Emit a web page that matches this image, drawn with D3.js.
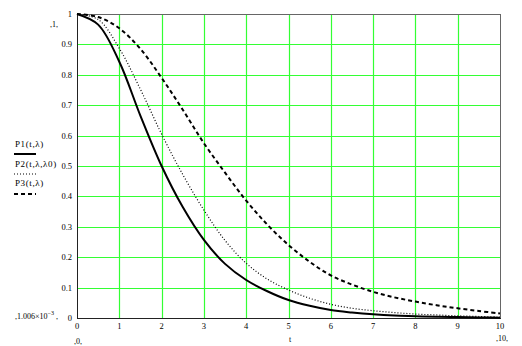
<!DOCTYPE html>
<html>
<head>
<meta charset="utf-8">
<script src="https://cdn.jsdelivr.net/npm/d3@7"></script>
<style>
  body { margin: 0; background: #fff; }
  text { font-family: "Liberation Serif", "Times New Roman", serif; fill: #000; }
</style>
</head>
<body>
<svg id="chart" width="522" height="346"></svg>
<script>
// values
var tValues = [0, 0.5, 1, 1.5, 2, 2.5, 3, 3.5, 4, 4.5, 5, 5.5, 6, 6.5, 7, 7.5, 8, 8.5, 9, 9.5, 10];
var p1Values = [1, 0.965, 0.843, 0.665, 0.5, 0.365, 0.257, 0.178, 0.125, 0.088, 0.059, 0.04, 0.026, 0.018, 0.012, 0.008, 0.006, 0.004, 0.003, 0.002, 0.001];
var p2Values = [1, 0.982, 0.887, 0.752, 0.605, 0.472, 0.355, 0.255, 0.18, 0.128, 0.092, 0.065, 0.045, 0.032, 0.024, 0.018, 0.013, 0.01, 0.007, 0.005, 0.003];
var p3Values = [1, 0.99, 0.953, 0.885, 0.79, 0.685, 0.575, 0.478, 0.386, 0.307, 0.24, 0.185, 0.14, 0.11, 0.086, 0.068, 0.054, 0.042, 0.032, 0.023, 0.015];
var xTicks = [0, 1, 2, 3, 4, 5, 6, 7, 8, 9, 10];
var yTicks = [0, 0.1, 0.2, 0.3, 0.4, 0.5, 0.6, 0.7, 0.8, 0.9, 1];
var legendLabels = ["P1(t,\u03bb)", "P2(t,\u03bb,\u03bb0)", "P3(t,\u03bb)"];

var svg = d3.select("#chart");
var plotLeft = 77, plotRight = 500, plotTop = 14, plotBottom = 318;

var x = d3.scaleLinear().domain([0, 10]).range([plotLeft, plotRight]);
var y = d3.scaleLinear().domain([0, 1]).range([plotBottom, plotTop]);

// grid
svg.append("g")
  .selectAll("line")
  .data(xTicks.slice(1, -1))
  .enter()
  .append("line")
    .attr("x1", d => Math.round(x(d)) + 0.5)
    .attr("x2", d => Math.round(x(d)) + 0.5)
    .attr("y1", plotTop)
    .attr("y2", plotBottom)
    .attr("stroke", "#33ff33")
    .attr("stroke-width", 1.2);

svg.append("g")
  .selectAll("line")
  .data(yTicks.slice(1, -1))
  .enter()
  .append("line")
    .attr("x1", plotLeft)
    .attr("x2", plotRight)
    .attr("y1", d => Math.round(y(d)) + 0.5)
    .attr("y2", d => Math.round(y(d)) + 0.5)
    .attr("stroke", "#33ff33")
    .attr("stroke-width", 1.2);

// frame
svg.append("rect")
  .attr("x", plotLeft + 0.5)
  .attr("y", plotTop + 0.5)
  .attr("width", plotRight - plotLeft)
  .attr("height", plotBottom - plotTop)
  .attr("fill", "none")
  .attr("stroke", "#666")
  .attr("stroke-width", 1);

svg.append("line")
  .attr("x1", plotLeft + 0.5).attr("x2", plotLeft + 0.5)
  .attr("y1", plotTop).attr("y2", plotBottom + 1)
  .attr("stroke", "#222");
svg.append("line")
  .attr("x1", plotLeft).attr("x2", plotRight + 1)
  .attr("y1", plotBottom + 0.5).attr("y2", plotBottom + 0.5)
  .attr("stroke", "#222");

// tick labels
svg.append("g")
  .selectAll("text")
  .data(xTicks)
  .enter()
  .append("text")
    .attr("x", d => x(d))
    .attr("y", plotBottom + 11)
    .attr("text-anchor", "middle")
    .style("font-size", "8.5px")
    .text(d => d);

svg.append("g")
  .selectAll("text")
  .data(yTicks)
  .enter()
  .append("text")
    .attr("x", plotLeft - 5)
    .attr("y", d => y(d) + 3)
    .attr("text-anchor", "end")
    .style("font-size", "8.5px")
    .text(d => d);

// curves
var line = d3.line()
  .x(d => x(d[0]))
  .y(d => y(d[1]))
  .curve(d3.curveCatmullRom.alpha(0.5));

var series = [
  { values: p1Values, width: 2, dash: null },
  { values: p2Values, width: 1.2, dash: "1,2" },
  { values: p3Values, width: 2, dash: "4,3" }
];

svg.append("g")
  .selectAll("path")
  .data(series)
  .enter()
  .append("path")
    .attr("d", s => line(tValues.map((t, i) => [t, s.values[i]])))
    .attr("fill", "none")
    .attr("stroke", "#000")
    .attr("stroke-width", s => s.width)
    .attr("stroke-dasharray", s => s.dash);

// legend
var legend = svg.append("g");
legendLabels.forEach(function(label, i) {
  legend.append("text")
    .attr("x", 15)
    .attr("y", 147 + i * 19.5)
    .style("font-size", "9px")
    .style("letter-spacing", "0.6px")
    .text(label);
  legend.append("line")
    .attr("x1", 14)
    .attr("x2", 36)
    .attr("y1", 154 + i * 20)
    .attr("y2", 154 + i * 20)
    .attr("stroke", "#000")
    .attr("stroke-width", series[i].width)
    .attr("stroke-dasharray", series[i].dash);
});

// range markers
function marker(xPos, yPos, anchor, txt) {
  return svg.append("text")
    .attr("x", xPos)
    .attr("y", yPos)
    .attr("text-anchor", anchor)
    .style("font-size", "8px")
    .text(txt);
}
marker(54, 27, "middle", ",1,");
marker(78, 344, "middle", ",0,");
marker(502, 341, "middle", ",10,");
marker(290, 342, "middle", "t");

var low = svg.append("text")
  .attr("x", 15)
  .attr("y", 319)
  .style("font-size", "8px");
low.append("tspan").text(",1.006\u00d710");
low.append("tspan").attr("dy", -4).style("font-size", "6px").text("\u22123");
low.append("tspan").attr("dy", 4).text(" ,");
</script>
</body>
</html>
